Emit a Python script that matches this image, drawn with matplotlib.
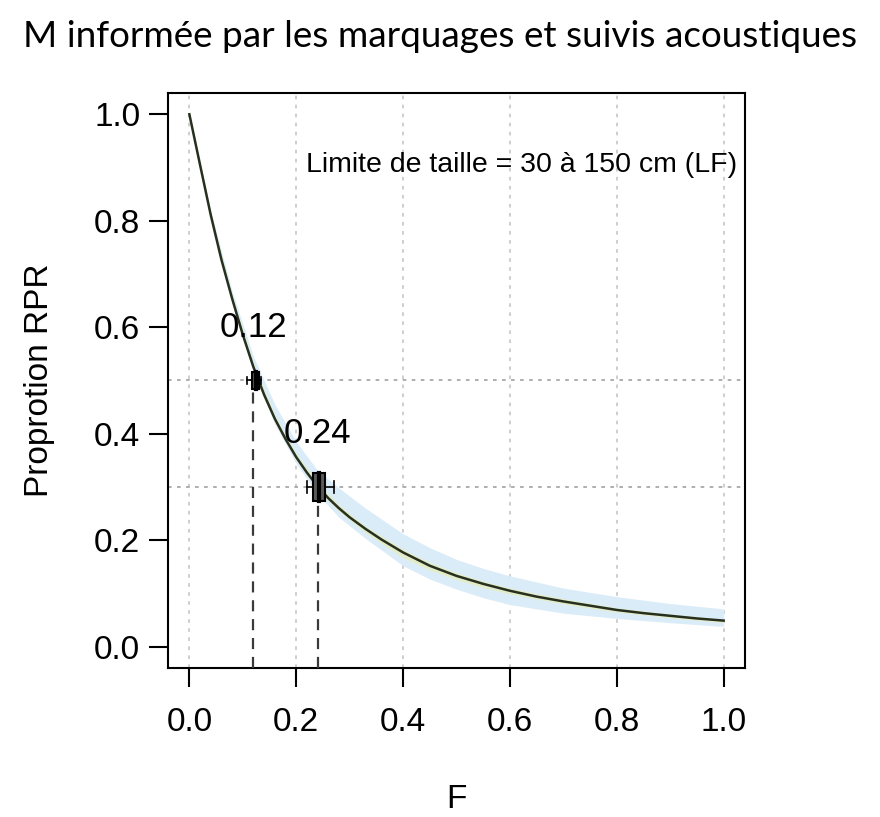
import matplotlib.pyplot as plt
import numpy as np

# RPR proportion against fishing mortality F
f_vals = [0.00, 0.02, 0.04, 0.06, 0.08, 0.10, 0.12, 0.14, 0.16, 0.18, 0.20,
          0.22, 0.24, 0.26, 0.28, 0.30, 0.33, 0.36, 0.40, 0.45, 0.50, 0.55,
          0.60, 0.65, 0.70, 0.75, 0.80, 0.85, 0.90, 0.95, 1.00]
rpr = [1.000, 0.905, 0.811, 0.727, 0.654, 0.586, 0.525, 0.473, 0.428, 0.390, 0.356,
       0.327, 0.301, 0.279, 0.260, 0.243, 0.221, 0.201, 0.177, 0.152, 0.133, 0.118,
       0.105, 0.094, 0.085, 0.077, 0.069, 0.063, 0.058, 0.053, 0.049]

# uncertainty envelopes
band_f = [0.00, 0.04, 0.08, 0.12, 0.16, 0.20, 0.24, 0.28, 0.33, 0.40, 0.45, 0.50,
          0.55, 0.60, 0.70, 0.80, 0.90, 1.00]
outer_lo = [1.000, 0.805, 0.645, 0.515, 0.418, 0.344, 0.287, 0.243, 0.203, 0.152, 0.127, 0.108,
            0.092, 0.079, 0.063, 0.053, 0.045, 0.038]
outer_hi = [1.000, 0.818, 0.668, 0.545, 0.455, 0.385, 0.331, 0.298, 0.260, 0.212, 0.186, 0.164,
            0.147, 0.133, 0.110, 0.094, 0.081, 0.071]
inner_lo = [1.000, 0.807, 0.648, 0.519, 0.422, 0.350, 0.295, 0.254, 0.214, 0.167, 0.144, 0.126,
            0.111, 0.099, 0.080, 0.065, 0.054, 0.045]
inner_hi = [1.000, 0.814, 0.659, 0.531, 0.434, 0.362, 0.308, 0.266, 0.226, 0.183, 0.158, 0.139,
            0.123, 0.110, 0.090, 0.073, 0.061, 0.052]

# F reaching the reference points (0.5 and 0.3 of RPR)
ref_levels = [0.5, 0.3]
ref_f = [0.12, 0.24]
ref_labels = ["0.12", "0.24"]
# boxplot summaries: whisker low, q1, median, q3, whisker high
box_stats = [[0.108, 0.117, 0.124, 0.131, 0.134],
             [0.221, 0.231, 0.242, 0.254, 0.270]]
box_heights = [0.032, 0.052]

ticks = [0.0, 0.2, 0.4, 0.6, 0.8, 1.0]

plt.rcParams['font.family'] = ['Liberation Sans', 'DejaVu Sans']
sans = ['Liberation Sans', 'DejaVu Sans']

fig = plt.figure(figsize=(8.8, 8.17), dpi=100)
ax = fig.add_axes([0.1909, 0.1824, 0.6557, 0.7038])

ax.set_xlim(-0.04, 1.04)
ax.set_ylim(-0.04, 1.04)

# vertical grid only
for t in ticks:
    ax.axvline(t, color='#cacaca', lw=1.3, ls=(0, (2, 3)), zorder=0)
for lv in ref_levels:
    ax.axhline(lv, color='#a8a8a8', lw=1.3, ls=(0, (2, 3)), zorder=1)

ax.fill_between(band_f, outer_lo, outer_hi, color='#dbecf9', lw=0, zorder=2)
ax.fill_between(band_f, inner_lo, inner_hi, color='#e3ecc9', lw=0, zorder=3)
ax.plot(f_vals, rpr, color='#27301f', lw=1.8, zorder=4)

for fv, lv, lab, st, h in zip(ref_f, ref_levels, ref_labels, box_stats, box_heights):
    wl, q1, med, q3, wh = st
    ax.plot([fv, fv], [-0.04, lv - h / 2], color='#3a3a3a', lw=1.6,
            ls=(0, (5, 3.5)), zorder=5)
    ax.plot([wl, q1], [lv, lv], color='black', lw=1.2, zorder=6)
    ax.plot([q3, wh], [lv, lv], color='black', lw=1.2, zorder=6)
    ax.plot([wl, wl], [lv - h * 0.22, lv + h * 0.22], color='black', lw=1.2, zorder=6)
    ax.plot([wh, wh], [lv - h * 0.22, lv + h * 0.22], color='black', lw=1.2, zorder=6)
    ax.add_patch(plt.Rectangle((q1, lv - h / 2), q3 - q1, h, facecolor='#5a5a5a',
                               edgecolor='black', lw=1.5, zorder=7))
    ax.plot([med, med], [lv - h / 2, lv + h / 2], color='black', lw=3, zorder=8)
    ax.text(fv, lv + 0.1, lab, fontsize=25, ha='center', va='center', zorder=9,
            family=sans)

ax.text(1.025, 0.905, "Limite de taille = 30 à 150 cm (LF)", fontsize=20.5,
        ha='right', va='center', family=sans)

ax.set_xticks(ticks)
ax.set_yticks(ticks)
ax.set_xticklabels(["%.1f" % t for t in ticks], family=sans)
ax.set_yticklabels(["%.1f" % t for t in ticks], family=sans)
ax.tick_params(direction='out', length=14, width=1.5, labelsize=24)
ax.tick_params(axis='x', pad=14)
ax.tick_params(axis='y', pad=6)
for sp in ax.spines.values():
    sp.set_linewidth(1.5)

ax.set_xlabel("F", fontsize=24, labelpad=33, family=sans)
ax.set_ylabel("Proprotion RPR", fontsize=24, labelpad=28, family=sans)

fig.text(0.5, 0.955, "M informée par les marquages et suivis acoustiques",
         fontsize=26.6, ha='center', va='center', family=['Lato', 'DejaVu Sans'])

fig.savefig('out.png', dpi=100)
